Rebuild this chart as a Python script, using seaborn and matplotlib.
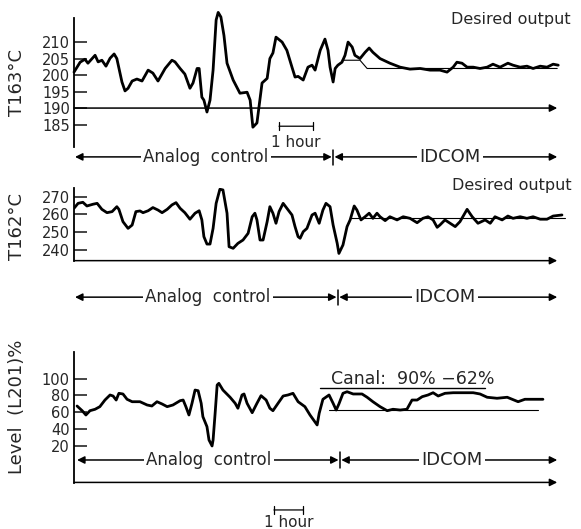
import matplotlib
matplotlib.use("Agg")
import matplotlib.pyplot as plt
import seaborn as sns

# T163 trace (hours, deg C)
t163_time = [0.00, 0.18, 0.32, 0.41, 0.62, 0.71, 0.82, 0.94, 1.06, 1.18, 1.26, 1.41, 1.50, 1.59,
             1.71, 1.85, 2.00, 2.18, 2.32, 2.47, 2.68, 2.88, 2.97, 3.12, 3.26, 3.41, 3.50, 3.62,
             3.68, 3.76, 3.82, 3.91, 4.00, 4.09, 4.18, 4.24, 4.32, 4.41, 4.50, 4.68, 4.88, 5.09,
             5.18, 5.26, 5.38, 5.53, 5.68, 5.76, 5.85, 5.94, 6.12, 6.26, 6.41, 6.50, 6.59, 6.74,
             6.88, 7.00, 7.09, 7.24, 7.38, 7.47, 7.53, 7.62, 7.68, 7.76, 7.88, 7.97, 8.06, 8.18,
             8.26, 8.41, 8.56, 8.68, 8.79, 9.00, 9.29, 9.59, 9.88, 10.18, 10.47, 10.76, 10.97,
             11.15, 11.26, 11.41, 11.56, 11.74, 11.94, 12.15, 12.32, 12.53, 12.76, 12.91, 13.12,
             13.32, 13.50, 13.71, 13.91, 14.09, 14.24]
t163_vals = [200.9, 203.9, 204.8, 203.6, 206.0, 204.0, 204.5, 202.7, 205.1, 206.4, 205.0, 197.9,
             195.2, 196.0, 198.2, 198.8, 198.2, 201.5, 200.6, 198.2, 202.0, 204.5, 204.0, 202.0,
             200.3, 196.0, 197.6, 202.0, 202.0, 193.3, 192.4, 188.8, 192.4, 201.5, 216.7, 219.0,
             217.6, 212.0, 203.6, 198.5, 194.5, 194.8, 192.4, 184.2, 185.5, 197.6, 199.0, 205.0,
             206.7, 211.5, 210.0, 207.5, 202.4, 199.4, 199.6, 198.5, 202.4, 203.0, 201.5, 207.5,
             210.9, 207.5, 202.4, 197.9, 202.0, 203.0, 203.9, 206.0, 210.0, 208.5, 206.0, 205.0,
             206.9, 208.2, 206.9, 205.0, 203.6, 202.4, 201.8, 202.0, 201.5, 201.5, 200.9, 202.4,
             203.9, 203.6, 202.4, 202.4, 202.0, 202.4, 203.3, 202.4, 203.6, 203.0, 202.4, 202.7,
             202.0, 202.7, 202.4, 203.3, 203.0]
t163_target_time = [7.88, 8.41, 8.62, 14.21]
t163_target_vals = [204.5, 204.5, 202.0, 202.0]

# T162 trace
t162_time = [0.00, 0.12, 0.26, 0.38, 0.56, 0.68, 0.82, 0.97, 1.12, 1.26, 1.32, 1.44, 1.59, 1.71,
             1.82, 1.94, 2.03, 2.18, 2.32, 2.47, 2.59, 2.74, 2.88, 3.00, 3.12, 3.26, 3.41, 3.56,
             3.68, 3.76, 3.82, 3.91, 4.00, 4.09, 4.18, 4.29, 4.38, 4.50, 4.56, 4.68, 4.82, 4.97,
             5.12, 5.24, 5.32, 5.38, 5.47, 5.56, 5.68, 5.76, 5.85, 5.94, 6.03, 6.15, 6.26, 6.41,
             6.50, 6.59, 6.65, 6.74, 6.85, 7.00, 7.09, 7.21, 7.32, 7.41, 7.53, 7.62, 7.74, 7.79,
             7.91, 8.03, 8.12, 8.24, 8.32, 8.44, 8.56, 8.68, 8.79, 8.91, 9.00, 9.15, 9.29, 9.50,
             9.68, 9.88, 10.09, 10.26, 10.41, 10.56, 10.68, 10.76, 10.91, 11.06, 11.21, 11.35,
             11.56, 11.71, 11.88, 12.09, 12.24, 12.38, 12.59, 12.76, 12.91, 13.12, 13.32, 13.50,
             13.71, 13.91, 14.09, 14.35]
t162_vals = [263.4, 266.2, 266.8, 264.7, 265.7, 266.2, 262.8, 260.9, 261.5, 264.3, 262.8, 255.8,
             252.0, 253.9, 261.5, 261.9, 260.9, 262.0, 263.8, 262.4, 260.9, 262.8, 265.3, 266.6,
             263.4, 260.9, 257.2, 260.6, 262.0, 256.8, 247.3, 243.1, 243.1, 252.0, 266.2, 274.2,
             273.8, 260.6, 241.6, 240.7, 243.5, 245.4, 249.2, 258.6, 260.6, 256.8, 245.4, 245.4,
             255.8, 264.3, 260.6, 254.9, 261.5, 266.2, 263.4, 259.6, 253.0, 247.3, 246.4, 250.1,
             252.0, 259.6, 260.6, 254.9, 262.4, 266.2, 264.3, 253.9, 243.5, 237.8, 242.6, 253.0,
             256.8, 264.7, 262.4, 256.8, 258.6, 260.6, 257.7, 260.6, 258.6, 256.4, 258.6, 256.8,
             258.6, 257.7, 255.2, 257.7, 258.6, 256.8, 252.6, 253.9, 256.8, 254.9, 253.0, 255.8,
             262.8, 258.6, 254.9, 256.8, 254.9, 258.6, 256.8, 259.0, 257.7, 258.6, 257.7, 258.6,
             257.2, 257.2, 259.0, 259.6]
t162_target_time = [8.12, 14.44]
t162_target_vals = [257.8, 257.8]

# Level L201 trace (%)
lvl_time = [0.09, 0.24, 0.35, 0.47, 0.62, 0.76, 0.91, 1.06, 1.15, 1.24, 1.32, 1.44, 1.56, 1.71,
            1.94, 2.15, 2.29, 2.44, 2.59, 2.74, 2.91, 3.12, 3.21, 3.29, 3.38, 3.47, 3.56, 3.65,
            3.74, 3.79, 3.91, 3.97, 4.06, 4.09, 4.15, 4.21, 4.26, 4.38, 4.59, 4.74, 4.82, 4.94,
            5.00, 5.09, 5.24, 5.38, 5.50, 5.65, 5.76, 5.85, 6.00, 6.15, 6.29, 6.44, 6.59, 6.79,
            6.94, 7.15, 7.21, 7.32, 7.50, 7.62, 7.71, 7.79, 7.91, 8.03, 8.21, 8.47, 8.62, 8.79,
            9.00, 9.21, 9.38, 9.59, 9.79, 9.94, 10.09, 10.24, 10.41, 10.56, 10.71, 10.91, 11.15,
            11.44, 11.74, 11.94, 12.15, 12.44, 12.74, 13.06, 13.26, 13.50, 13.79]
lvl_vals = [67.5, 61.9, 56.8, 61.9, 63.6, 66.7, 74.6, 80.6, 79.4, 74.6, 82.6, 81.8, 75.5, 72.6,
            72.6, 68.7, 67.5, 72.6, 69.9, 66.7, 68.7, 73.8, 74.6, 66.7, 56.8, 70.7, 86.5, 85.7,
            70.7, 54.8, 42.9, 27.0, 19.9, 27.0, 58.8, 92.5, 94.5, 86.5, 77.9, 70.7, 64.8, 80.6,
            81.8, 70.7, 59.5, 70.7, 79.8, 74.6, 64.8, 61.9, 70.7, 79.4, 80.6, 82.6, 72.6, 66.7,
            56.8, 44.9, 58.8, 75.5, 80.6, 70.7, 62.7, 69.9, 82.6, 84.5, 81.8, 81.8, 77.9, 72.6,
            66.7, 61.9, 63.6, 62.7, 63.6, 74.6, 74.6, 78.6, 80.6, 83.3, 79.4, 82.6, 83.3, 83.3,
            83.3, 81.8, 77.9, 76.7, 77.9, 72.6, 75.5, 75.5, 75.5]
canal_low_time = [7.50, 13.65]
canal_low_vals = [63.0, 63.0]
canal_high_time = [7.24, 12.09]
canal_high_vals = [88.6, 88.6]

sns.set_style("white")
plt.rcParams["font.family"] = ["DejaVu Sans"]

W, H = 581, 529
fig = plt.figure(figsize=(W / 100, H / 100), dpi=100)


def make_ax(top, bottom):
    return fig.add_axes([74 / W, 1 - bottom / H, (580 - 74) / W, (bottom - top) / H])


def style_ax(ax, ylim, ticks, label, label_y):
    ax.set_xlim(0, 14.88)
    ax.set_ylim(*ylim)
    for s in ["top", "right", "bottom"]:
        ax.spines[s].set_visible(False)
    ax.spines["left"].set_linewidth(1.3)
    ax.spines["left"].set_color("black")
    ax.set_xticks([])
    ax.set_yticks(ticks)
    ax.tick_params(axis="y", direction="in", length=9, width=1.2, labelsize=10.5, pad=3, left=True)
    ax.set_ylabel(label, fontsize=13)
    ax.yaxis.set_label_coords(-0.094, label_y)
    ax.set_facecolor("none")


def arrow(ax, x0, x1, y, style="-|>"):
    ax.annotate("", xy=(x1, y), xytext=(x0, y), annotation_clip=False,
                arrowprops=dict(arrowstyle=style, color="black", lw=1.1,
                                mutation_scale=11, shrinkA=0, shrinkB=0))


def control_row(ax, y, y0, y1, left, switch, right, a_x, i_x):
    arrow(ax, switch - 0.04, left, y, "<|-|>")
    arrow(ax, switch + 0.04, right, y, "<|-|>")
    ax.plot([switch, switch], [y0, y1], color="black", lw=1.1, clip_on=False)
    box = dict(facecolor="white", edgecolor="none", pad=1.5)
    ax.text(a_x, y, "Analog  control", ha="center", va="center", fontsize=12, bbox=box)
    ax.text(i_x, y, "IDCOM", ha="center", va="center", fontsize=13, bbox=box)


def hour_bar(ax, x0, x1, y, ty):
    ax.annotate("", xy=(x1, y), xytext=(x0, y), annotation_clip=False,
                arrowprops=dict(arrowstyle="|-|", color="black", lw=0.9,
                                mutation_scale=3, shrinkA=0, shrinkB=0))
    ax.text((x0 + x1) / 2, ty, "1 hour", ha="center", va="center", fontsize=11)


# Panel 1: T163
ax1 = make_ax(18, 147)
sns.lineplot(x=t163_time, y=t163_vals, ax=ax1, color="black", lw=2.0, estimator=None)
ax1.lines[-1].set_clip_on(False)
sns.lineplot(x=t163_target_time, y=t163_target_vals, ax=ax1, color="black", lw=0.8, estimator=None)
style_ax(ax1, (178.2, 217.3), [185, 190, 195, 200, 205, 210], "T163°C", 0.50)
arrow(ax1, 0, 14.21, 190)
ax1.text(12.85, 216.7, "Desired output", ha="center", va="center", fontsize=11.5)
hour_bar(ax1, 6.03, 7.03, 184.5, 179.7)
control_row(ax1, 175.2, 177.3, 172.7, 0.03, 7.62, 14.21, 3.88, 11.06)

# Panel 2: T162
ax2 = make_ax(188, 261)
sns.lineplot(x=t162_time, y=t162_vals, ax=ax2, color="black", lw=2.0, estimator=None)
sns.lineplot(x=t162_target_time, y=t162_target_vals, ax=ax2, color="black", lw=0.8, estimator=None)
style_ax(ax2, (233.5, 274.9), [240, 250, 260, 270], "T162°C", 0.47)
arrow(ax2, 0, 14.21, 233.7)
ax2.text(12.88, 276.6, "Desired output", ha="center", va="center", fontsize=11.5)
control_row(ax2, 213.0, 217.0, 208.5, 0.03, 7.76, 14.21, 3.94, 10.91)

# Panel 3: Level
ax3 = make_ax(352, 483)
sns.lineplot(x=lvl_time, y=lvl_vals, ax=ax3, color="black", lw=2.0, estimator=None)
sns.lineplot(x=canal_low_time, y=canal_low_vals, ax=ax3, color="black", lw=0.8, estimator=None)
sns.lineplot(x=canal_high_time, y=canal_high_vals, ax=ax3, color="black", lw=1.0, estimator=None)
style_ax(ax3, (-24.2, 131.8), [20, 40, 60, 80, 100], "Level  (L201)%", 0.58)
arrow(ax3, 0, 14.21, -23.5)
ax3.text(9.97, 100.0, "Canal:  90% \u221262%", ha="center", va="center", fontsize=12.5)
control_row(ax3, 3.2, 12.7, -6.3, 0.09, 7.82, 14.21, 3.97, 11.12)
hour_bar(ax3, 5.88, 6.74, -56.3, -71.8)

fig.savefig("out.png", dpi=100)
